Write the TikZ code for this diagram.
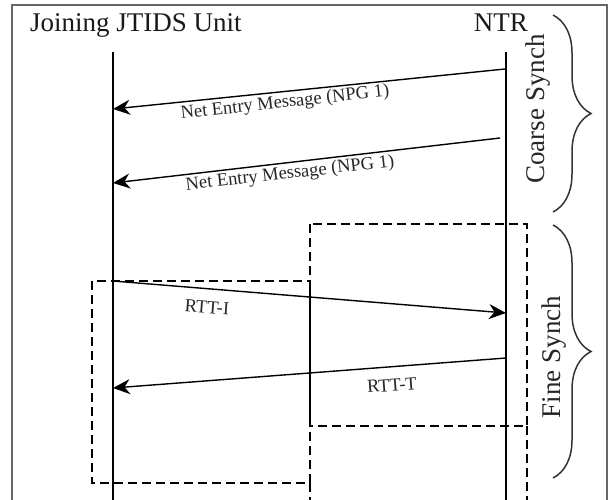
\documentclass[tikz,border=0pt]{standalone}
\usepackage{fontspec}
\setmainfont{Liberation Serif}
\usetikzlibrary{arrows.meta,decorations.pathreplacing}
\begin{document}
\begin{tikzpicture}[x=1pt,y=-1pt,
  frame/.style={draw=black!60,line width=1.2pt},
  head/.style={inner sep=0pt,font=\fontsize{27}{30}\selectfont,text=black!90},
  lbl/.style={inner sep=0pt,font=\fontsize{18.5}{20}\selectfont,text=black!85},
  side/.style={inner sep=0pt,font=\fontsize{27}{30}\selectfont,text=black!85},
  lifeline/.style={line width=2.5pt},
  msg/.style={line width=1.4pt,-{Stealth[length=17pt,width=15pt,inset=5.5pt]}},
  dbox/.style={line width=2.3pt,dash pattern=on 9pt off 5pt},
  bracket/.style={line width=1.5pt,draw=black!80,decorate,decoration={brace,amplitude=38pt}}]
\useasboundingbox (0,0) rectangle (613,500);
\begin{scope}
\clip (0,0) rectangle (613,500);

% outer frame, open at the bottom
\draw[frame] (12,505) -- (12,5) -- (607,5) -- (607,505);

% participants
\node[head,anchor=base west] (jju) at (30,32) {Joining JTIDS Unit};
\node[head,anchor=base east] (ntr) at (528,32) {NTR};

% lifelines
\coordinate (jtop) at (113,52);
\coordinate (jbot) at (113,502);
\coordinate (ntop) at (506,52);
\coordinate (nbot) at (506,502);
\draw[lifeline] (jtop) -- (jbot);
\draw[lifeline] (ntop) -- (nbot);

% dashed timing windows
\draw[dbox] (310,224) rectangle (527,426);
\draw[dbox] (92,281) rectangle (310,483);
\coordinate (wa) at (310,483);
\coordinate (wb) at (310,502);
\coordinate (wc) at (527,426);
\coordinate (wd) at (527,502);
\draw[dbox] (wa) -- (wb);
\draw[dbox] (wc) -- (wd);
\coordinate (ov1) at (310,281);
\coordinate (ov2) at (310,426);
\draw[line width=2.3pt] (ov1) -- (ov2);

% messages
\coordinate (m1s) at (505,69);
\coordinate (m1e) at (113,109);
\coordinate (m2s) at (500,138);
\coordinate (m2e) at (113,183);
\coordinate (m3s) at (113,281);
\coordinate (m3e) at (506,313);
\coordinate (m4s) at (506,358);
\coordinate (m4e) at (113,388);
\draw[msg] (m1s) -- (m1e);
\draw[msg] (m2s) -- (m2e);
\draw[msg] (m3s) -- (m3e);
\draw[msg] (m4s) -- (m4e);

\node[lbl,rotate=6.3] (l1) at (285,103) {Net Entry Message (NPG 1)};
\node[lbl,rotate=6.6] (l2) at (290,174) {Net Entry Message (NPG 1)};
\node[lbl,rotate=-4.5] (l3) at (207,307) {RTT-I};
\node[lbl,rotate=4.2] (l4) at (392,385) {RTT-T};

% phase braces
\coordinate (b1a) at (553,15);
\coordinate (b1b) at (553,212);
\coordinate (b2a) at (553,225);
\coordinate (b2b) at (553,478);
\draw[bracket] (b1a) -- (b1b);
\draw[bracket] (b2a) -- (b2b);
\node[side,rotate=90] (cs) at (538,109) {Coarse Synch};
\node[side,rotate=90] (fs) at (554,357) {Fine Synch};
\end{scope}
\end{tikzpicture}
\end{document}
